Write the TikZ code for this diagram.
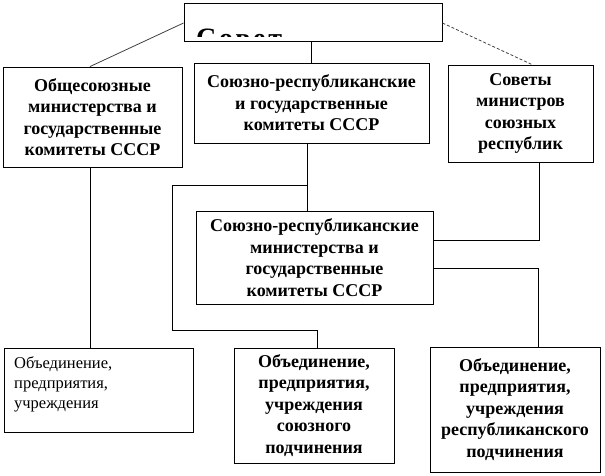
\documentclass[tikz,border=0pt]{standalone}
\usepackage{fontspec}
\setmainfont{Liberation Serif}
\begin{document}
\begin{tikzpicture}[x=1pt,y=-1pt,
  box/.style={draw, line width=0.9pt, inner sep=0pt, align=center,
    font=\bfseries\fontsize{18}{21.5}\selectfont},
  conn/.style={line width=0.9pt},
  diag/.style={line width=0.8pt, black!75}]
\useasboundingbox (0,0) rectangle (605,476);
% boxes
\node[box, minimum width=258, minimum height=38] (top) at (313,22) {};
\begin{scope}
  \clip (185,3) rectangle (441,37);
  \node[inner sep=0pt, anchor=base west,
    font=\bfseries\fontsize{28}{30}\selectfont\addfontfeatures{LetterSpace=10}]
    (toptext) at (196,47.5) {Совет};
\end{scope}
\node[box, minimum width=179, minimum height=100] (b1) at (92.5,117)
  {Общесоюзные\\министерства и\\государственные\\комитеты СССР};
\node[box, minimum width=235, minimum height=80] (b2) at (311.5,103)
  {Союзно-республиканские\\и государственные\\комитеты СССР};
\node[box, minimum width=145, minimum height=97] (b3) at (520.5,113.5)
  {Советы\\министров\\союзных\\республик};
\node[box, minimum width=237, minimum height=93] (b4) at (314.5,257.5)
  {Союзно-республиканские\\министерства и\\государственные\\комитеты СССР};
\node[box, minimum width=189, minimum height=84] (b5) at (98.5,390) {};
\node[inner sep=0pt, anchor=north west, align=left,
  font=\fontsize{16.5}{20}\selectfont] (b5text) at (14,356.5)
  {Объединение,\\предприятия,\\учреждения};
\node[box, minimum width=160, minimum height=115] (b6) at (314,405.5)
  {Объединение,\\предприятия,\\учреждения\\союзного\\подчинения};
\node[box, minimum width=170, minimum height=125] (b7) at (515,409.5)
  {Объединение,\\предприятия,\\учреждения\\республиканского\\подчинения};
% connectors
\draw[diag] ([yshift=-1pt]top.west) -- ([xshift=-2.5pt]b1.north);
\draw[conn] (b2.north |- top.south) -- (b2.north);
\draw[diag, dash pattern=on 3pt off 2pt] ([yshift=-1pt]top.east) -- ([xshift=11.5pt]b3.north);
\draw[conn] ([xshift=-4.5pt]b2.south) -- ([xshift=-4.5pt]b2.south |- b4.north);
\coordinate (j1) at (307,185);
\coordinate (j2) at (172,330);
\draw[conn] (j1) -| (j2) -| ([xshift=3pt]b6.north);
\draw[conn] ([xshift=18.5pt]b3.south) |- ([yshift=17.5pt]b4.east);
\draw[conn] ([yshift=-10.5pt]b4.east) -| ([xshift=23pt]b7.north);
\draw[conn] ([xshift=-2.5pt]b1.south) -- ([xshift=-2.5pt]b1.south |- b5.north);
\end{tikzpicture}
\end{document}
